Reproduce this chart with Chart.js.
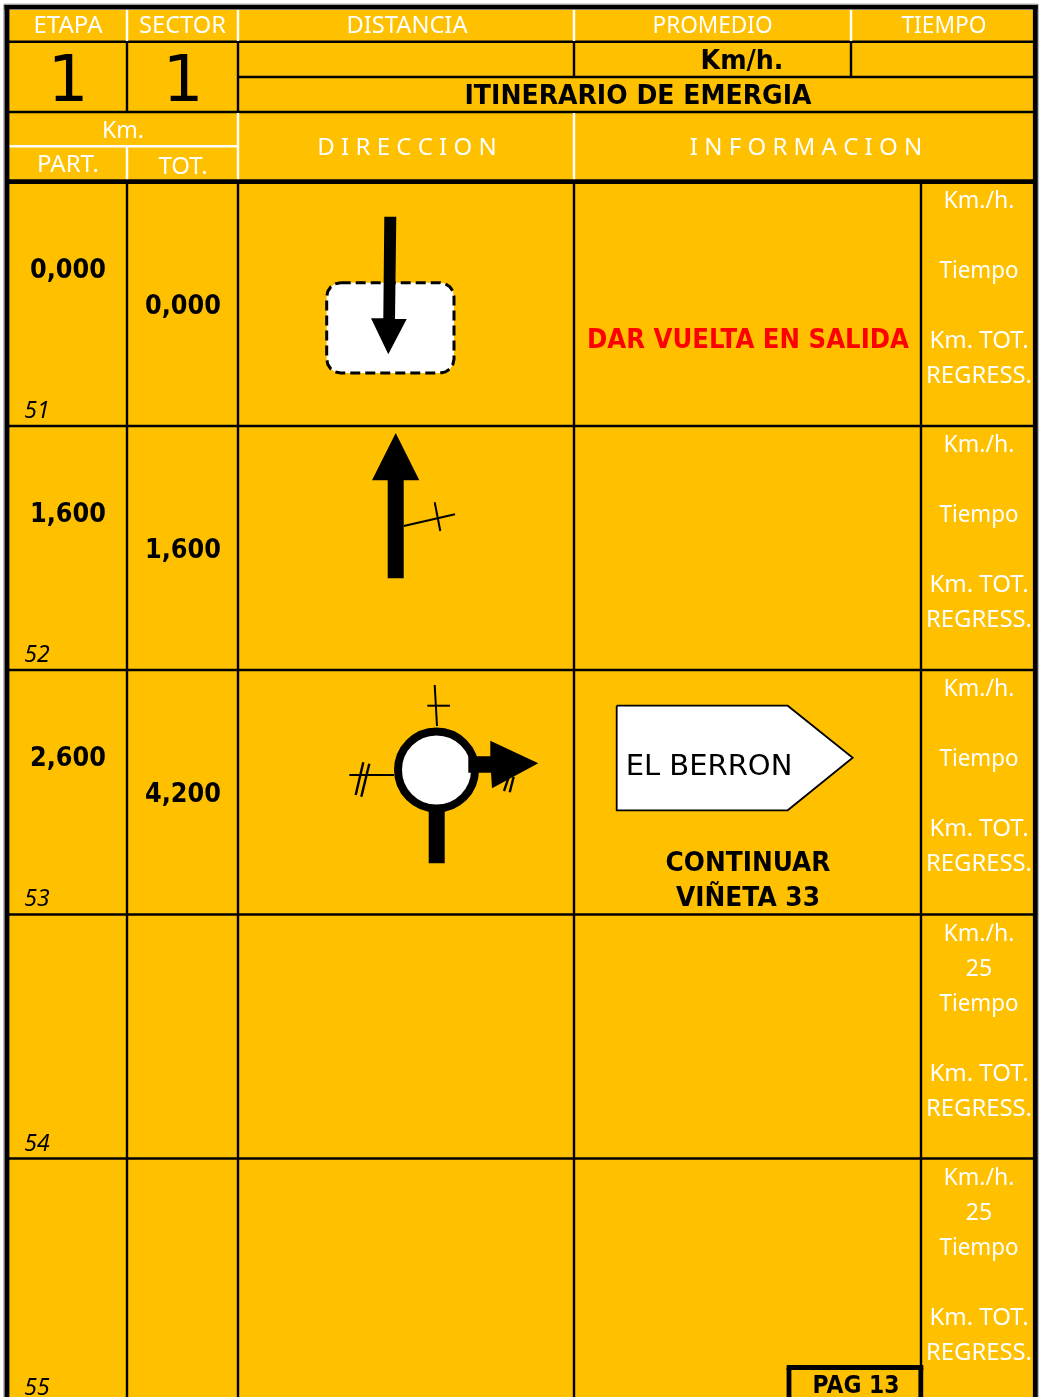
<!DOCTYPE html>
<html>
<head>
<meta charset="utf-8">
<script src="https://cdn.jsdelivr.net/npm/chart.js@4"></script>
<style>
html, body { margin: 0; padding: 0; background: #fff; overflow: hidden; }
canvas { display: block; }
</style>
</head>
<body>
<canvas id="roadbook" width="1043" height="1397"></canvas>
<script>
const headerLabels = ['ETAPA', 'SECTOR', 'DISTANCIA', 'PROMEDIO', 'TIEMPO'];
const headerCenters = [68, 182.5, 407, 712.5, 944];
const headerWidths = [70, 87, 121, 120, 85];
const rowNumbers = ['51', '52', '53', '54', '55'];
const partKm = ['0,000', '1,600', '2,600', '', ''];
const totKm = ['0,000', '1,600', '4,200', '', ''];
const speedValues = ['', '', '', '25', '25'];
const sideLabels = ['Km./h.', 'Tiempo', 'Km. TOT.', 'REGRESS.'];
const rowTops = [180.5, 424.5, 668.5, 913.5, 1157.5];

// table rules in scale units: x1, y1, x2, y2
const blackRules = [
    [9, 41.7, 1033, 41.7], [238, 77, 1033, 77], [9, 112, 1033, 112],
    [9, 426, 1033, 426], [9, 670, 1033, 670], [9, 914.5, 1033, 914.5], [9, 1158.5, 1033, 1158.5],
    [127, 41, 127, 112], [238, 41, 238, 112], [574, 41, 574, 77], [851, 41, 851, 77],
    [127, 181, 127, 1397], [238, 181, 238, 1397], [574, 181, 574, 1397], [921, 181, 921, 1366]
];
const whiteRules = [
    [127, 10, 127, 41], [238, 10, 238, 41], [574, 10, 574, 41], [851, 10, 851, 41],
    [9, 146.3, 238, 146.3], [127, 147, 127, 180], [238, 113, 238, 180], [574, 113, 574, 180]
];
const heavyRules = [
    [4.5, 7.2, 1037.5, 7.2], [7, 5, 7, 1397], [1035.3, 5, 1035.3, 1397], [5, 181.7, 1037, 181.7],
    [789, 1397, 789, 1367.5], [786.7, 1367.5, 923.3, 1367.5], [920.8, 1367.5, 920.8, 1397]
];
const edgeRules = [[4, 4, 1038, 4], [4, 4, 4, 1397], [1038, 4, 1038, 1397]];
const thinRules = [
    [403.7, 526, 455, 514.3], [434.7, 502.3, 440.3, 531],
    [434.7, 685, 437, 726], [427.3, 705.7, 450, 705.7],
    [349.3, 775, 394, 775]
];
const slashRules = [
    [363.3, 762.3, 355.7, 795], [369.3, 763.7, 361.3, 796.7],
    [508.3, 778.3, 504, 791], [513.7, 776.7, 509.7, 792.3]
];

const sheet = [[9, 10], [1033, 10], [1033, 1397], [9, 1397]];
const startBox = [
    [340.7, 282.7], [440, 282.7], [445.4, 283.8], [449.9, 286.8], [452.9, 291.3], [454, 296.7],
    [454, 359], [452.9, 364.4], [449.9, 368.9], [445.4, 371.9], [440, 373],
    [340.7, 373], [335.3, 371.9], [330.8, 368.9], [327.8, 364.4], [326.7, 359],
    [326.7, 296.7], [327.8, 291.3], [330.8, 286.8], [335.3, 283.8], [340.7, 282.7]
];
const solidShapes = [
    [[384.3, 216.7], [396.3, 216.7], [395, 319], [406.7, 319], [388.3, 354.3], [371, 318.3], [383.3, 318.3]],
    [[395.7, 433], [419.3, 480.3], [403.7, 480.3], [403.7, 578.3], [387.7, 578.3], [387.7, 480.3], [372, 480.3]],
    [[428.7, 808], [444.7, 808], [444.7, 863.3], [428.7, 863.3]],
    [[468.3, 756.3], [490.3, 756.3], [490.3, 740.7], [538.3, 763.3], [492, 788.3], [491, 772.7], [468.3, 772.7]]
];
const signShape = [[616.7, 705.7], [787.7, 705.7], [852.7, 757.7], [787.7, 810.3], [616.7, 810.3], [616.7, 705.7]];
const roundabout = [{ x: 436.5, y: 770 }];

const YELLOW = '#FFC000';
const LABEL_FONT = '"Noto Sans"';
const BOLD_FONT = '"DejaVu Sans"';

const toPoints = (pairs) => pairs.map((p) => ({ x: p[0], y: p[1] }));

const ruleSets = (rules, color, width) => rules.map((r) => ({
    data: toPoints([[r[0], r[1]], [r[2], r[3]]]),
    showLine: true, borderColor: color, borderWidth: width, pointRadius: 0
}));

const shapeSet = (pairs, fillColor, lineColor, width, dash) => ({
    data: toPoints(pairs),
    showLine: true, fill: 'shape', backgroundColor: fillColor,
    borderColor: lineColor, borderWidth: width, borderDash: dash || [], pointRadius: 0
});

// listed bottom layer first, reversed below since Chart.js paints dataset 0 last
const layers = [
    ...ruleSets(edgeRules, '#b4b4b4', 1),
    shapeSet(sheet, YELLOW, YELLOW, 0),
    ...ruleSets(blackRules, '#000', 2.4),
    ...ruleSets(whiteRules, '#fff', 2.4),
    ...ruleSets(heavyRules, '#000', 4.8),
    shapeSet(startBox, '#fff', '#000', 3, [10, 5]),
    shapeSet(signShape, '#fff', '#000', 1.8),
    { data: roundabout, pointRadius: 38.5, pointBackgroundColor: '#fff', pointBorderColor: '#000', pointBorderWidth: 8 },
    ...solidShapes.map((s) => shapeSet(s, '#000', '#000', 0)),
    ...ruleSets(thinRules, '#000', 2),
    ...ruleSets(slashRules, '#000', 2.4)
];

const texts = [];
const addText = (str, x, y, font, color, width) => texts.push({ str, x, y, font, color, width });
const label = '23px ' + LABEL_FONT;
const wideLabel = '24px ' + LABEL_FONT;
const bold = 'bold 26px ' + BOLD_FONT;

headerLabels.forEach((h, i) => addText(h, headerCenters[i], 33, wideLabel, '#fff', headerWidths[i]));
addText('1', 68, 101, '64px ' + BOLD_FONT, '#000');
addText('1', 183, 101, '64px ' + BOLD_FONT, '#000');
addText('Km/h.', 742, 69, bold, '#000', 83);
addText('ITINERARIO DE EMERGIA', 638, 104, bold, '#000', 347);
addText('Km.', 123, 137.5, label, '#fff');
addText('PART.', 68, 171.5, wideLabel, '#fff', 65);
addText('TOT.', 183, 173.5, wideLabel, '#fff', 53);
addText('D I R E C C I O N', 407, 155, wideLabel, '#fff', 184);
addText('I N F O R M A C I O N', 806, 155, wideLabel, '#fff', 233);
rowNumbers.forEach((n, i) => {
    const top = rowTops[i];
    addText(n, 37, top + 237, 'italic 23px ' + LABEL_FONT, '#000');
    if (partKm[i]) addText(partKm[i], 68, rowTops[0] + 97 + i * 244.3, bold, '#000', 76);
    if (totKm[i]) addText(totKm[i], 183, rowTops[0] + 133 + i * 244.3, bold, '#000', 76);
    addText(sideLabels[0], 979, top + 27.5, label, '#fff');
    if (speedValues[i]) addText(speedValues[i], 979, top + 62.5, label, '#fff');
    addText(sideLabels[1], 979, top + 97.5, label, '#fff', 79);
    addText(sideLabels[2], 979, top + 167.5, wideLabel, '#fff', 100);
    addText(sideLabels[3], 979, top + 202.5, wideLabel, '#fff', 106);
});
addText('DAR VUELTA EN SALIDA', 748, 348, bold, '#FF0000', 322);
addText('EL BERRON', 709, 775, '29px ' + BOLD_FONT, '#000', 168);
addText('CONTINUAR', 748, 871, bold, '#000', 165);
addText('VIÑETA 33', 748, 906, bold, '#000', 144);
addText('PAG 13', 856, 1393, 'bold 24px ' + BOLD_FONT, '#000', 87);

const cellText = {
    id: 'cellText',
    afterDatasetsDraw(chart) {
        const { ctx, scales } = chart;
        ctx.save();
        ctx.textAlign = 'center';
        ctx.textBaseline = 'alphabetic';
        texts.forEach((t) => {
            ctx.font = t.font;
            ctx.fillStyle = t.color;
            const x = scales.x.getPixelForValue(t.x);
            const y = scales.y.getPixelForValue(t.y);
            if (t.width) ctx.fillText(t.str, x, y, t.width);
            else ctx.fillText(t.str, x, y);
        });
        ctx.restore();
    }
};

new Chart(document.getElementById('roadbook'), {
    type: 'scatter',
    data: { datasets: layers.slice().reverse() },
    options: {
        responsive: false,
        animation: false,
        events: [],
        layout: { padding: 0, autoPadding: false },
        plugins: { legend: { display: false }, tooltip: { enabled: false }, title: { display: false } },
        scales: {
            x: { type: 'linear', min: 0, max: 1043, display: false },
            y: { type: 'linear', min: 0, max: 1397, reverse: true, display: false }
        }
    },
    plugins: [cellText]
});
</script>
</body>
</html>
